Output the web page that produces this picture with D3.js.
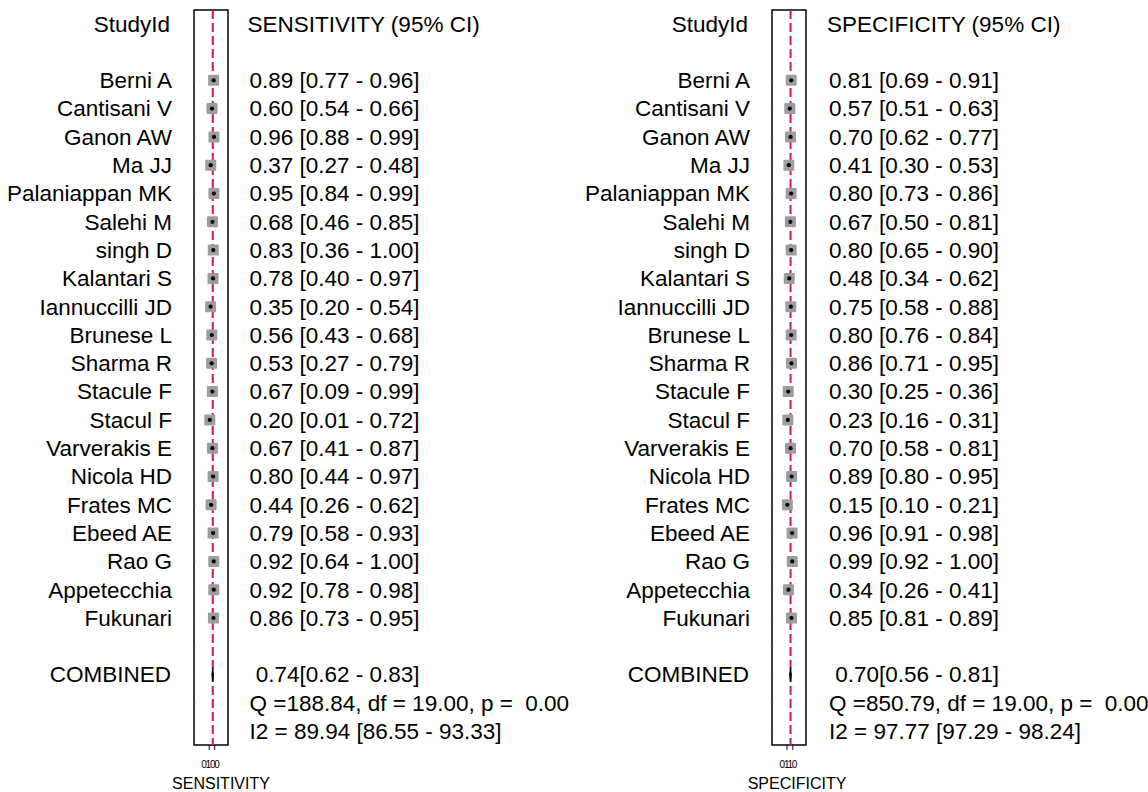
<!DOCTYPE html>
<html>
<head>
<meta charset="utf-8">
<script src="https://cdn.jsdelivr.net/npm/d3@7"></script>
<style>
  html, body { margin: 0; padding: 0; background: #fff; }
  svg { display: block; font-family: "Liberation Sans", Arial, Helvetica, sans-serif; }
</style>
</head>
<body>
<svg id="chart" width="1148" height="792"></svg>
<script>
// Study labels, in plotting order
const studies = ["Berni A", "Cantisani V", "Ganon AW", "Ma JJ", "Palaniappan MK", "Salehi M",
  "singh D", "Kalantari S", "Iannuccilli JD", "Brunese L", "Sharma R", "Stacule F", "Stacul F",
  "Varverakis E", "Nicola HD", "Frates MC", "Ebeed AE", "Rao G", "Appetecchia", "Fukunari"];

// Sensitivity per study: estimate, lower and upper 95% CI
const sensEst = [0.89, 0.60, 0.96, 0.37, 0.95, 0.68, 0.83, 0.78, 0.35, 0.56, 0.53, 0.67, 0.20, 0.67, 0.80, 0.44, 0.79, 0.92, 0.92, 0.86];
const sensLo  = [0.77, 0.54, 0.88, 0.27, 0.84, 0.46, 0.36, 0.40, 0.20, 0.43, 0.27, 0.09, 0.01, 0.41, 0.44, 0.26, 0.58, 0.64, 0.78, 0.73];
const sensHi  = [0.96, 0.66, 0.99, 0.48, 0.99, 0.85, 1.00, 0.97, 0.54, 0.68, 0.79, 0.99, 0.72, 0.87, 0.97, 0.62, 0.93, 1.00, 0.98, 0.95];

// Specificity per study: estimate, lower and upper 95% CI
const specEst = [0.81, 0.57, 0.70, 0.41, 0.80, 0.67, 0.80, 0.48, 0.75, 0.80, 0.86, 0.30, 0.23, 0.70, 0.89, 0.15, 0.96, 0.99, 0.34, 0.85];
const specLo  = [0.69, 0.51, 0.62, 0.30, 0.73, 0.50, 0.65, 0.34, 0.58, 0.76, 0.71, 0.25, 0.16, 0.58, 0.80, 0.10, 0.91, 0.92, 0.26, 0.81];
const specHi  = [0.91, 0.63, 0.77, 0.53, 0.86, 0.81, 0.90, 0.62, 0.88, 0.84, 0.95, 0.36, 0.31, 0.81, 0.95, 0.21, 0.98, 1.00, 0.41, 0.89];

// Pooled estimates [estimate, lower, upper]
const sensPooled = [0.74, 0.62, 0.83];
const specPooled = [0.70, 0.56, 0.81];

// Heterogeneity statistics: Q, df, p, I2, I2 lower, I2 upper
const sensHet = [188.84, 19.00, 0.00, 89.94, 86.55, 93.33];
const specHet = [850.79, 19.00, 0.00, 97.77, 97.29, 98.24];

// Axis tick values and their printed labels
const axisTicks = [0, 1];
const sensTickLabels = ["0", "100"];
const specTickLabels = ["0", "110"];

const svg = d3.select("#chart");
const f2 = d3.format(".2f");

// Row index -> vertical position (studies 0..19, pooled on row 21)
const y = d3.scaleLinear().domain([0, 1]).range([80.3, 108.6]);

const panels = [
  { title: "SENSITIVITY", est: sensEst, lo: sensLo, hi: sensHi, pooled: sensPooled, het: sensHet,
    tickLabels: sensTickLabels, nameRight: 172, boxL: 194, boxR: 228, x0: 208.7, x1: 214.2,
    textX: 249.5, titleX: 221, diamondFill: "#138a13" },
  { title: "SPECIFICITY", est: specEst, lo: specLo, hi: specHi, pooled: specPooled, het: specHet,
    tickLabels: specTickLabels, nameRight: 750, boxL: 772, boxR: 806, x0: 786.5, x1: 792.3,
    textX: 829, titleX: 797, diamondFill: "#111" }
];

const boxTop = 10, boxBottom = 745;
const fontSize = 22.5;

panels.forEach(p => {
  const g = svg.append("g");
  const x = d3.scaleLinear().domain([0, 1]).range([p.x0, p.x1]);

  // Column headers
  g.append("text").attr("x", p.nameRight - 2).attr("y", y(-2)).attr("dy", "0.35em")
    .attr("text-anchor", "end").attr("font-size", fontSize).text("StudyId");
  g.append("text").attr("x", p.textX - 2).attr("y", y(-2)).attr("dy", "0.35em")
    .attr("font-size", fontSize).text(p.title + " (95% CI)");

  // Study names
  g.selectAll("text.name").data(studies).join("text")
    .attr("class", "name")
    .attr("x", p.nameRight).attr("y", (d, i) => y(i)).attr("dy", "0.35em")
    .attr("text-anchor", "end").attr("font-size", fontSize).text(d => d);

  // Estimate text with CI
  g.selectAll("text.val").data(p.est).join("text")
    .attr("class", "val")
    .attr("x", p.textX).attr("y", (d, i) => y(i)).attr("dy", "0.35em")
    .attr("font-size", fontSize)
    .text((d, i) => `${f2(d)} [${f2(p.lo[i])} - ${f2(p.hi[i])}]`);

  // Pooled row and heterogeneity lines
  g.append("text").attr("x", p.nameRight - 1).attr("y", y(21)).attr("dy", "0.35em")
    .attr("text-anchor", "end").attr("font-size", fontSize).text("COMBINED");
  g.append("text").attr("x", p.textX).attr("y", y(21)).attr("dy", "0.35em")
    .attr("font-size", fontSize).attr("xml:space", "preserve")
    .text(` ${f2(p.pooled[0])}[${f2(p.pooled[1])} - ${f2(p.pooled[2])}]`);
  g.append("text").attr("x", p.textX).attr("y", y(22)).attr("dy", "0.35em")
    .attr("font-size", fontSize).attr("xml:space", "preserve")
    .text(`Q =${f2(p.het[0])}, df = ${f2(p.het[1])}, p =  ${f2(p.het[2])}`);
  g.append("text").attr("x", p.textX).attr("y", y(23)).attr("dy", "0.35em")
    .attr("font-size", fontSize)
    .text(`I2 = ${f2(p.het[3])} [${f2(p.het[4])} - ${f2(p.het[5])}]`);

  // Plot frame
  g.append("rect").attr("x", p.boxL).attr("y", boxTop)
    .attr("width", p.boxR - p.boxL).attr("height", boxBottom - boxTop)
    .attr("fill", "none").attr("stroke", "#111").attr("stroke-width", 1.6);

  // Small left-edge ticks at each row
  g.selectAll("line.rtick").data(d3.range(0, 24)).join("line")
    .attr("class", "rtick")
    .attr("x1", p.boxL).attr("x2", p.boxL + 1.5)
    .attr("y1", d => y(d)).attr("y2", d => y(d))
    .attr("stroke", "#777").attr("stroke-width", 0.8);

  // Pooled reference line
  g.append("line")
    .attr("x1", x(p.pooled[0])).attr("x2", x(p.pooled[0]))
    .attr("y1", boxTop).attr("y2", boxBottom)
    .attr("stroke", "#d6174f").attr("stroke-width", 2)
    .attr("stroke-dasharray", "9,4");

  // CI whiskers
  g.selectAll("line.ci").data(p.est).join("line")
    .attr("class", "ci")
    .attr("x1", (d, i) => x(p.lo[i])).attr("x2", (d, i) => x(p.hi[i]))
    .attr("y1", (d, i) => y(i)).attr("y2", (d, i) => y(i))
    .attr("stroke", "#222").attr("stroke-width", 1);

  // Study weight squares
  const sq = 11;
  g.selectAll("rect.pt").data(p.est).join("rect")
    .attr("class", "pt")
    .attr("x", d => x(d) - sq / 2).attr("y", (d, i) => y(i) - sq / 2)
    .attr("width", sq).attr("height", sq).attr("rx", 1.2)
    .attr("fill", "#9d9d9d");

  // Point estimates
  g.selectAll("circle.pt").data(p.est).join("circle")
    .attr("class", "pt")
    .attr("cx", d => x(d)).attr("cy", (d, i) => y(i)).attr("r", 2.1)
    .attr("fill", "#000");

  // Pooled diamond
  const yc = y(21), h = 7;
  g.append("path")
    .attr("d", `M${x(p.pooled[1])},${yc} L${x(p.pooled[0])},${yc - h} L${x(p.pooled[2])},${yc} L${x(p.pooled[0])},${yc + h} Z`)
    .attr("fill", p.diamondFill).attr("stroke", "#000").attr("stroke-width", 1.2);

  // Bottom axis
  const axis = d3.axisBottom(x).tickValues(axisTicks).tickSize(5).tickFormat("");
  const ag = g.append("g").attr("transform", `translate(0,${boxBottom})`).call(axis);
  ag.select(".domain").remove();
  ag.selectAll(".tick line").attr("stroke", "#111").attr("stroke-width", 1);
  g.append("text").attr("x", (x(0) + x(1)) / 2 - 1.5).attr("y", 767.5)
    .attr("text-anchor", "middle").attr("font-size", 10).attr("letter-spacing", -1.2)
    .text(p.tickLabels.join(""));

  // Axis title
  g.append("text").attr("x", p.titleX).attr("y", 788.5)
    .attr("text-anchor", "middle").attr("font-size", 16).text(p.title);
});
</script>
</body>
</html>
